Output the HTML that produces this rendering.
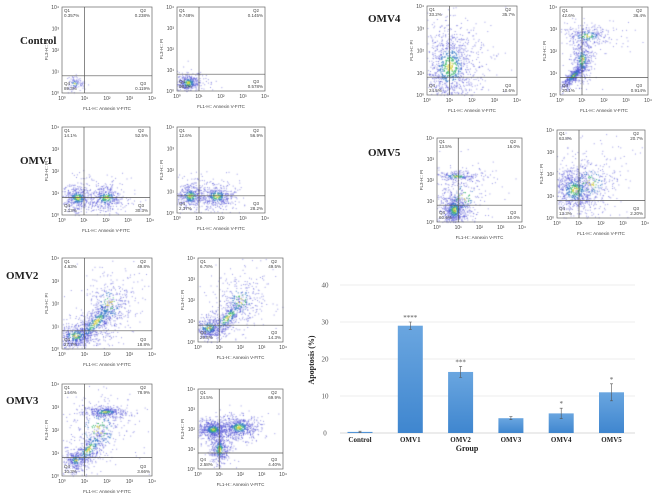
<!DOCTYPE html>
<html><head><meta charset="utf-8"><style>
body{margin:0;width:655px;height:499px;background:#fff;overflow:hidden;position:relative;font-family:"Liberation Serif",serif}
canvas{position:absolute;left:0;top:0}
svg{position:absolute;left:0;top:0}
</style></head><body>
<canvas id="cv" width="655" height="499"></canvas>
<svg id="sv" width="655" height="499"></svg>
<script>
// Bar chart data
const groups=["Control","OMV1","OMV2","OMV3","OMV4","OMV5"];
const apoptosis=[0.3,29,16.5,4,5.3,11];
const errors=[0.2,1,1.5,0.4,1.4,2.3];
const stars=["","****","***","","*","*"];
const yTicks=[0,10,20,30,40];

const NS="http://www.w3.org/2000/svg";
const sv=document.getElementById('sv');
const cx=document.getElementById('cv').getContext('2d');
function el(t,a,p){const e=document.createElementNS(NS,t);for(const k in a)e.setAttribute(k,a[k]);(p||sv).appendChild(e);return e;}
function tx(s,a,p){const e=el('text',a,p);e.textContent=s;return e;}

let seed=7;function rnd(){seed=(seed*16807)%2147483647;return seed/2147483647;}
function gauss(){return (rnd()+rnd()+rnd()+rnd()-2)/0.58;}

const plots=[
 {n:"control-a",x:62,y:7,w:90,h:86,q:["0.357%","0.238%","89.3%","0.119%"],cl:[[0.55,0.45,0.15,0.12,100,0.6]]},
 {n:"control-b",x:177,y:7,w:88,h:84,q:["9.748%","0.145%","98.3%","0.578%"],cl:[[0.5,0.4,0.25,0.2,400,0.5]]},
 {n:"omv1-a",x:62,y:127,w:88,h:88,q:["14.1%","52.5%","3.13%","30.3%"],cl:[[0.7,0.8,0.3,0.25,450,0],[2.0,0.8,0.35,0.25,450,0]]},
 {n:"omv1-b",x:177,y:127,w:88,h:86,q:["12.6%","56.9%","2.37%","28.2%"],cl:[[0.6,0.8,0.3,0.25,400,0],[1.8,0.8,0.35,0.25,450,0]]},
 {n:"omv2-a",x:62,y:258,w:90,h:91,q:["4.63%","49.8%","27.7%","18.8%"],cl:[[0.6,0.6,0.4,0.25,500,0],[1.5,1.2,0.55,0.6,700,1],[2.1,2.0,0.5,0.6,300,0]]},
 {n:"omv2-b",x:198,y:258,w:85,h:84,q:["6.78%","49.5%","29.5%","14.3%"],cl:[[0.5,0.7,0.35,0.25,350,0],[1.4,1.2,0.55,0.55,500,1],[2.0,2.0,0.5,0.6,250,0]]},
 {n:"omv3-a",x:62,y:384,w:90,h:92,q:["14.6%","78.9%","10.3%","3.66%"],cl:[[0.6,0.7,0.2,0.2,250,0],[1.2,1.2,0.45,0.6,450,1],[1.9,2.8,0.4,0.1,350,0],[1.6,2.0,0.7,0.7,300,0]]},
 {n:"omv3-b",x:198,y:389,w:85,h:80,q:["24.5%","69.9%","2.58%","4.40%"],cl:[[0.7,2.0,0.3,0.2,600,0],[1.9,2.1,0.4,0.25,600,0],[1.0,1.0,0.2,0.35,400,0]]},
 {n:"omv4-a",x:427,y:6,w:90,h:89,q:["33.2%","35.7%","24.5%","10.6%"],cl:[[1.0,1.3,0.55,0.8,1200,0]]},
 {n:"omv4-b",x:560,y:7,w:88,h:88,q:["42.6%","36.4%","20.1%","0.914%"],cl:[[0.6,0.9,0.25,0.25,450,1],[1.0,1.6,0.2,0.45,350,0],[1.2,2.7,0.5,0.2,300,0]]},
 {n:"omv5-a",x:437,y:138,w:85,h:84,q:["13.5%","16.0%","60.6%","10.0%"],cl:[[0.8,0.6,0.25,0.35,700,0],[0.9,2.2,0.45,0.12,220,0],[1.2,1.2,0.6,0.6,200,0]]},
 {n:"omv5-b",x:557,y:130,w:88,h:88,q:["63.8%","20.7%","13.3%","2.20%"],cl:[[0.8,1.3,0.45,0.45,800,0],[1.5,1.6,0.6,0.6,300,0]]}
];
plots.forEach(p=>{
 const g=el('g',{});
 const X=v=>p.x+v/4*p.w, Y=v=>p.y+p.h-v/4*p.h;
 p.cl.forEach(c=>{for(let i=0;i<c[4];i++){let a=gauss(),b=gauss();const wide=rnd()<0.35?1.9:1;a*=wide;b*=wide;
   let vx=c[0]+a*c[2],vy=c[1]+b*c[3];
   if(c[5]==1){vy=c[1]+(vx-c[0])*0.9+b*c[3]*0.5;}
   if(vx<0||vx>4||vy<0||vy>4)continue;const r=Math.sqrt(a*a+b*b);
   cx.fillStyle=r<0.3?'#d8d040':r<0.55?'#40b870':r<0.9?'#3a7cc8':'rgba(70,70,210,0.55)';cx.fillRect(X(vx),Y(vy),1,1);}});
 el('rect',{x:p.x,y:p.y,width:p.w,height:p.h,fill:'none',stroke:'#666','stroke-width':0.7},g);
 el('line',{x1:X(1),x2:X(1),y1:p.y,y2:p.y+p.h,stroke:'#555','stroke-width':0.7},g);
 el('line',{x1:p.x,x2:p.x+p.w,y1:Y(0.8),y2:Y(0.8),stroke:'#555','stroke-width':0.7},g);
 for(let i=0;i<=4;i++){tx('10'+['⁰','¹','²','³','⁴'][i],{x:X(i),y:p.y+p.h+7,'font-size':5,'text-anchor':'middle',fill:'#444','font-family':'Liberation Sans'},g);
  tx('10'+['⁰','¹','²','³','⁴'][i],{x:p.x-3,y:Y(i)+2,'font-size':5,'text-anchor':'end',fill:'#444','font-family':'Liberation Sans'},g);}
 const f={'font-size':4.5,fill:'#444','font-family':'Liberation Sans'};
 tx('Q1',Object.assign({x:p.x+2,y:p.y+5},f),g);tx(p.q[0],Object.assign({x:p.x+2,y:p.y+10},f),g);
 tx('Q2',Object.assign({x:p.x+p.w-12,y:p.y+5},f),g);tx(p.q[1],Object.assign({x:p.x+p.w-2,y:p.y+10,'text-anchor':'end'},f),g);
 tx('Q4',Object.assign({x:p.x+2,y:p.y+p.h-8},f),g);tx(p.q[2],Object.assign({x:p.x+2,y:p.y+p.h-3},f),g);
 tx('Q3',Object.assign({x:p.x+p.w-12,y:p.y+p.h-8},f),g);tx(p.q[3],Object.assign({x:p.x+p.w-2,y:p.y+p.h-3,'text-anchor':'end'},f),g);
 tx('FL1-H:: Annexin V-FITC',Object.assign({x:p.x+p.w/2,y:p.y+p.h+17,'text-anchor':'middle'},f),g);
 tx('FL3-H:: PI',Object.assign({x:0,y:0,'text-anchor':'middle',transform:`translate(${p.x-14},${p.y+p.h/2}) rotate(-90)`},f),g);
});
[["Control",20,44],["OMV1",20,164],["OMV2",6,279],["OMV3",6,404],["OMV4",368,22],["OMV5",368,156]].forEach(r=>{
 const t=tx(r[0],{x:r[1],y:r[2],'font-size':11,'font-weight':'bold',fill:'#222'});
 });

// bar chart
const bc=el('g',{});
const y0=433,yPer=3.7,xL=340,xR=635,x0=360,step=50.3;
const yS=v=>y0-v*yPer, xS=i=>x0+i*step;
yTicks.forEach(t=>{
 el('line',{x1:xL,x2:xR,y1:yS(t),y2:yS(t),stroke:t?'#e6e6e6':'#ccc','stroke-width':0.8,},bc);
 tx(String(t),{x:325,y:yS(t)+2.5,'font-size':7,'text-anchor':'middle',fill:'#555',},bc);});
const defs=el('defs',{});const lg=el('linearGradient',{id:'bg',x1:0,y1:0,x2:0,y2:1},defs);
el('stop',{offset:0,'stop-color':'#6aa6e0'},lg);el('stop',{offset:1,'stop-color':'#3f86cf'},lg);
groups.forEach((gname,i)=>{
 const v=apoptosis[i],e=errors[i];
 el('rect',{x:xS(i)-12.5,y:yS(v),width:25,height:y0-yS(v),fill:'url(#bg)',},bc);
 el('path',{d:`M${xS(i)},${yS(v+e)}V${yS(v-e)}M${xS(i)-1.5},${yS(v+e)}h3M${xS(i)-1.5},${yS(v-e)}h3`,stroke:'#555','stroke-width':0.6,fill:'none',},bc);
 if(stars[i])tx(stars[i],{x:xS(i),y:yS(v+e)-2,'font-size':7,'text-anchor':'middle',fill:'#555',},bc);
 tx(gname,{x:xS(i),y:442,'font-size':7,'text-anchor':'middle',fill:'#222','font-weight':'bold',},bc);
});
tx('Group',{x:467,y:451,'font-size':8,'text-anchor':'middle','font-weight':'bold',fill:'#222',},bc);
tx('Apoptosis (%)',{x:0,y:0,'font-size':8,'text-anchor':'middle','font-weight':'bold',fill:'#222',transform:'translate(314,360) rotate(-90)',},bc);
</script></body></html>
